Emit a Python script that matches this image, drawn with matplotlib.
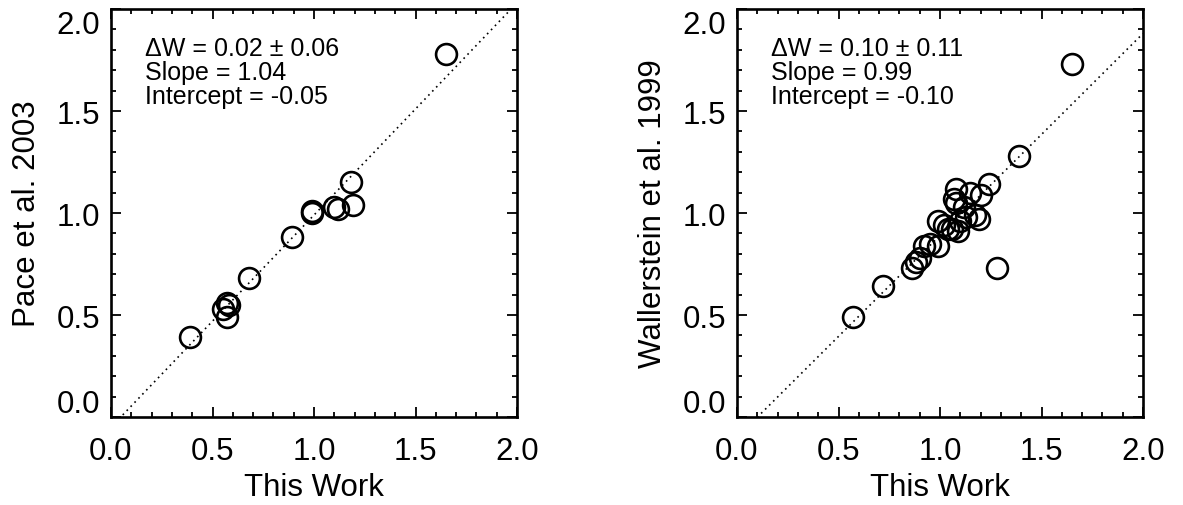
import matplotlib
matplotlib.use("Agg")
import matplotlib.pyplot as plt
import matplotlib.transforms as mtransforms
from matplotlib.ticker import FixedLocator, MultipleLocator
import numpy as np

plt.rcParams['font.family'] = ['Liberation Sans', 'DejaVu Sans']

# Equivalent widths: this work vs. Pace et al. 2003
pace_this = [1.65, 1.18, 1.19, 1.12, 1.10, 0.99, 0.99, 0.89, 0.68,
             0.57, 0.58, 0.55, 0.57, 0.39]
pace_lit = [1.78, 1.15, 1.04, 1.02, 1.03, 1.00, 1.01, 0.88, 0.68,
            0.56, 0.55, 0.53, 0.49, 0.39]
pace_stats = dict(dw=0.02, err=0.06, slope=1.04, icpt=-0.05)

# Equivalent widths: this work vs. Wallerstein et al. 1999
wall_this = [1.65, 1.39, 1.24, 1.20, 1.08, 1.15, 1.07, 1.08, 1.12,
             1.17, 1.19, 1.13, 1.10, 1.09, 1.06, 0.99, 1.02, 1.04,
             0.99, 0.95, 0.92, 0.90, 0.88, 0.86, 1.28, 0.72, 0.57]
wall_lit = [1.73, 1.28, 1.14, 1.09, 1.12, 1.10, 1.07, 1.05, 1.03,
            0.99, 0.97, 0.98, 0.96, 0.91, 0.92, 0.96, 0.94, 0.92,
            0.84, 0.85, 0.84, 0.78, 0.76, 0.73, 0.73, 0.64, 0.49]
wall_stats = dict(dw=0.10, err=0.11, slope=0.99, icpt=-0.10)

major_ticks = [0.0, 0.5, 1.0, 1.5, 2.0]
tick_labels = ['0.0', '0.5', '1.0', '1.5', '2.0']
xlabel = 'This Work'
ylabels = ['Pace et al. 2003', 'Wallerstein et al. 1999']

W, H = 1183, 506
fig = plt.figure(figsize=(W / 100, H / 100), dpi=100)

panels = [
    (111, pace_this, pace_lit, pace_stats, ylabels[0]),
    (737, wall_this, wall_lit, wall_stats, ylabels[1]),
]

for left_px, xs, ys, st, ylab in panels:
    ax = fig.add_axes([left_px / W, 88 / H, 406 / W, 408 / H])
    ax.set_xlim(0, 2)
    ax.set_ylim(0, 2)

    # linear fit line
    xl = np.array([0.0, 2.0])
    ax.plot(xl, st['slope'] * xl + st['icpt'], color='black', lw=1.2,
            linestyle=(0, (1, 2.4)), zorder=1)

    ax.plot(xs, ys, linestyle='none', marker='o', markersize=15,
            markerfacecolor='none', markeredgecolor='black',
            markeredgewidth=1.9, zorder=2)

    for sp in ax.spines.values():
        sp.set_linewidth(1.9)

    for axis in (ax.xaxis, ax.yaxis):
        axis.set_major_locator(FixedLocator(major_ticks))
        axis.set_minor_locator(MultipleLocator(0.1))
    ax.set_xticklabels(tick_labels)
    ax.set_yticklabels(tick_labels)
    ax.tick_params(which='both', direction='in', top=True, right=True,
                   width=1.3, labelsize=22.5)
    ax.tick_params(which='major', length=7)
    ax.tick_params(which='minor', length=3.5)
    ax.tick_params(axis='x', which='major', pad=14)
    ax.tick_params(axis='y', which='major', pad=8)

    # end labels on the vertical axis sit inside the frame
    yt = ax.yaxis.get_major_ticks()
    yt[0].label1.set_transform(yt[0].label1.get_transform() +
                               mtransforms.ScaledTranslation(0, 0.16, fig.dpi_scale_trans))
    yt[-1].label1.set_transform(yt[-1].label1.get_transform() +
                                mtransforms.ScaledTranslation(0, -0.12, fig.dpi_scale_trans))

    ax.set_xlabel(xlabel, fontsize=22.5, labelpad=4)
    ax.set_ylabel(ylab, fontsize=22.5)
    ax.yaxis.set_label_coords(-0.169, 0.5)

    lines = [
        '\u0394W = %.2f \u00b1 %.2f' % (st['dw'], st['err']),
        'Slope = %.2f' % st['slope'],
        'Intercept = %.2f' % st['icpt'],
    ]
    for txt, yy in zip(lines, [0.887, 0.828, 0.770]):
        ax.text(0.084, yy, txt, transform=ax.transAxes, fontsize=18,
                ha='left', va='baseline')

fig.savefig('out.png', dpi=100)
